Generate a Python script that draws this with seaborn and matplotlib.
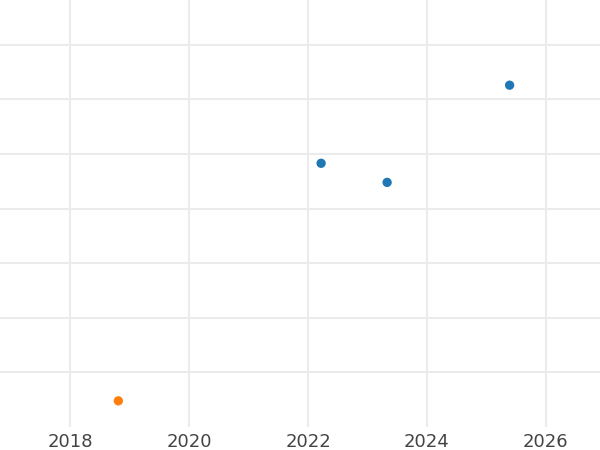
import matplotlib
matplotlib.use("Agg")
import matplotlib.pyplot as plt
import seaborn as sns
import pandas as pd

# Data
years = [2022.22, 2023.33, 2025.39, 2018.81]
values = [4.83, 4.48, 6.26, 0.48]
groups = ["A", "A", "A", "B"]
x_ticks = [2018, 2020, 2022, 2024, 2026]
y_ticks = [1, 2, 3, 4, 5, 6, 7]

df = pd.DataFrame({"year": years, "value": values, "group": groups})

sns.set_style("whitegrid", {"grid.color": "#ebebeb", "axes.edgecolor": "white"})

fig = plt.figure(figsize=(6, 4.5), dpi=100)
ax = fig.add_axes([0, 0.051, 1, 0.949])

sns.scatterplot(data=df, x="year", y="value", hue="group",
                palette=["#1f77b4", "#ff7f0e"], s=45, edgecolor="none",
                legend=False, ax=ax)

ax.set_xlim(2016.82, 2026.91)
ax.set_ylim(0, 7.82)
ax.set_xticks(x_ticks)
ax.set_yticks(y_ticks)
ax.set_yticklabels([])
ax.grid(True, color="#ebebeb", linewidth=1.5)
ax.tick_params(axis="x", length=0, labelsize=13, labelcolor="#444444", pad=4)
ax.tick_params(axis="y", length=0)
ax.set_xlabel("")
ax.set_ylabel("")
for s in ax.spines.values():
    s.set_visible(False)

fig.savefig("out.png", dpi=100)
